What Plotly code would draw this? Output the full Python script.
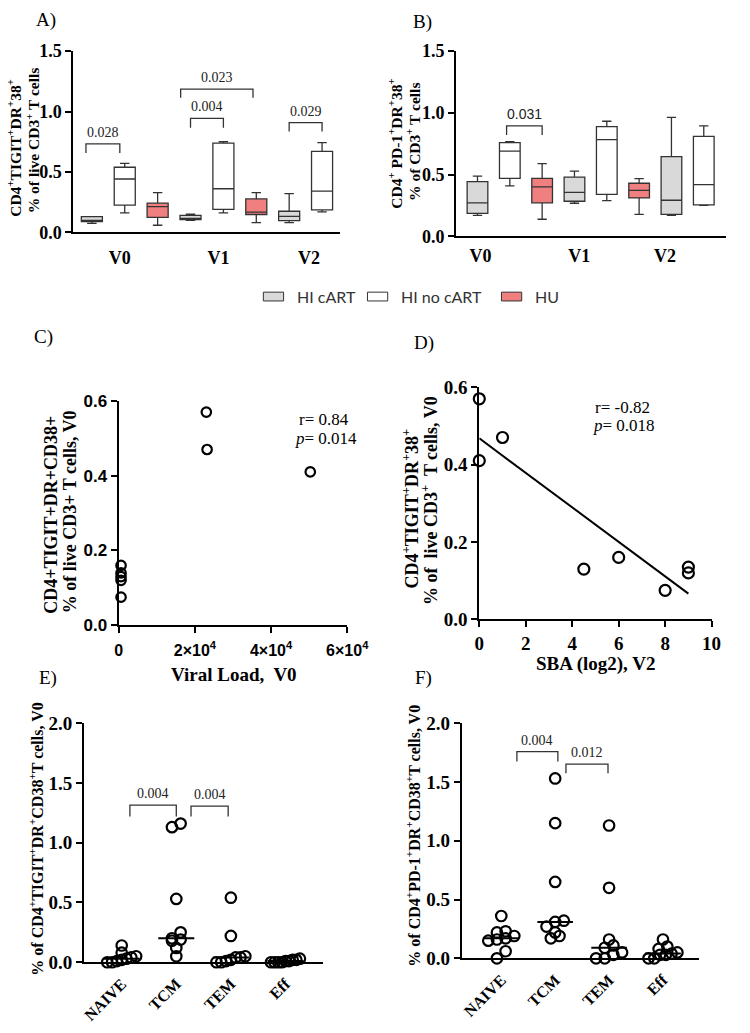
import numpy as np
import plotly.graph_objects as go

W, H = 750, 1033

# ---------------- panels A and B: box stats per visit (min, q1, median, q3, max)
visits = ["V0", "V1", "V2"]
series = ["HI cART", "HI no cART", "HU"]
fills = ["#d9d9d9", "#ffffff", "#f08080"]

a_cart = [(0.075, 0.09, 0.10, 0.13, 0.13), (0.10, 0.105, 0.115, 0.14, 0.15), (0.08, 0.097, 0.132, 0.175, 0.32)]
a_nocart = [(0.162, 0.226, 0.442, 0.539, 0.571), (0.162, 0.191, 0.361, 0.738, 0.751), (0.17, 0.186, 0.342, 0.671, 0.743)]
a_hu = [(0.059, 0.124, 0.213, 0.242, 0.329), (0.081, 0.148, 0.167, 0.277, 0.329)]

b_cart = [(0.17, 0.186, 0.271, 0.443, 0.488), (0.268, 0.284, 0.356, 0.48, 0.528), (0.17, 0.178, 0.292, 0.645, 0.964)]
b_nocart = [(0.409, 0.47, 0.69, 0.759, 0.767), (0.289, 0.34, 0.783, 0.889, 0.932), (0.25, 0.255, 0.419, 0.81, 0.895)]
b_hu = [(0.138, 0.271, 0.40, 0.47, 0.589), (0.178, 0.311, 0.372, 0.43, 0.467)]

# brackets: (from slot, to slot, top, drop, p value)
a_brackets = [(-0.18, 0.85, 0.733, 0.076, "0.028"), (3.0, 4.0, 0.943, 0.076, "0.004"),
              (2.7, 4.9, 1.185, 0.07, "0.023"), (6.0, 7.0, 0.908, 0.073, "0.029")]
b_brackets = [(0.9, 2.0, 0.895, 0.075, "0.031")]

# ---------------- panel C: viral load vs CD4+TIGIT+DR+CD38+
c_viral_load = [23000, 23200, 50300, 600, 600, 600, 600, 600]
c_values = [0.57, 0.47, 0.41, 0.16, 0.14, 0.13, 0.12, 0.075]
c_r, c_p = "0.84", "0.014"

# ---------------- panel D: SBA vs CD4+TIGIT+DR+38+
d_sba = [0, 0, 1, 4.5, 6, 8, 9, 9]
d_values = [0.57, 0.41, 0.47, 0.13, 0.16, 0.075, 0.135, 0.12]
d_r, d_p = "-0.82", "0.018"

# ---------------- panels E and F: subsets
subsets = ["NAIVE", "TCM", "TEM", "Eff"]
e_naive = [0.14, 0.08, 0.05, 0.04, 0.03, 0.02, 0.01, 0.0, 0.0]
e_tcm = [1.16, 1.13, 0.53, 0.25, 0.20, 0.19, 0.18, 0.12, 0.05]
e_tem = [0.54, 0.22, 0.05, 0.04, 0.04, 0.02, 0.01, 0.0, 0.0]
e_eff = [0.03, 0.02, 0.02, 0.01, 0.01, 0.0, 0.0, 0.0, 0.0]

f_naive = [0.36, 0.23, 0.22, 0.19, 0.17, 0.16, 0.15, 0.06, 0.0]
f_tcm = [1.53, 1.15, 0.65, 0.32, 0.31, 0.27, 0.22, 0.19, 0.17]
f_tem = [1.13, 0.60, 0.16, 0.11, 0.09, 0.05, 0.03, 0.0, 0.0]
f_eff = [0.16, 0.10, 0.08, 0.05, 0.04, 0.03, 0.03, 0.0, 0.0]

e_brackets = [(0.15, 1.0, 1.315, 0.095, "0.004"), (1.27, 1.95, 1.307, 0.087, "0.004")]
f_brackets = [(0.29, 1.05, 1.758, 0.084, "0.004"), (1.2, 1.98, 1.652, 0.078, "0.012")]


def px(x):
    return x / W


def py(y):
    return 1 - y / H


serif = "Liberation Serif"
sans = "Liberation Sans"
INK = "#222222"

fig = go.Figure()


def tfont(size, family=serif):
    return dict(family=family, size=size, color="black", weight="bold")


def axis(**kw):
    base = dict(showline=True, linewidth=2.2, linecolor="black", ticks="outside",
                ticklen=6, tickwidth=2.2, tickcolor="black", showgrid=False,
                zeroline=False, fixedrange=True, tickfont=tfont(18))
    base.update(kw)
    return base


def add_boxes(stats, xa, ya):
    for s, (name, fill) in enumerate(zip(series, fills)):
        st = stats[s]
        lo, q1, md, q3, hi = zip(*st)
        fig.add_trace(go.Box(
            x=[g * 3 + s for g in range(len(st))], lowerfence=lo, q1=q1, median=md,
            q3=q3, upperfence=hi, name=name, fillcolor=fill,
            line=dict(color="#333333", width=1.3), width=0.64, whiskerwidth=0.45,
            boxpoints=False, xaxis=xa, yaxis=ya, showlegend=False, hoverinfo="skip"))


def add_brackets(brackets, xa, ya, font):
    for x0, x1, top, drop, label in brackets:
        fig.add_trace(go.Scatter(
            x=[x0, x0, x1, x1], y=[top - drop, top, top, top - drop], mode="lines",
            line=dict(color="#333333", width=1.3), xaxis=xa, yaxis=ya,
            showlegend=False, hoverinfo="skip", cliponaxis=False))
        fig.add_annotation(x=(x0 + x1) / 2, y=top, xref=xa, yref=ya, text=label,
                           showarrow=False, yanchor="bottom", yshift=2, font=font)


def swarm(values, unit_y, unit_x, row=8.0, gap=9.0, spread=30.0):
    # GraphPad-like scatter: points binned in rows, each row spread sideways
    vals = np.asarray(values, dtype=float)
    rows = np.floor(vals * unit_y / row).astype(int)
    offs = np.zeros(len(vals))
    for r in np.unique(rows):
        idx = np.where(rows == r)[0]
        idx = idx[np.argsort(vals[idx], kind="stable")]
        n = len(idx)
        if n == 1:
            continue
        s = min(gap, spread / (n - 1))
        for j, i in enumerate(idx):
            offs[i] = (j - (n - 1) / 2) * s / unit_x
    return offs


def add_dots(groups, xa, ya, unit_y, unit_x):
    for g, vals in enumerate(groups):
        offs = swarm(vals, unit_y, unit_x)
        fig.add_trace(go.Scatter(
            x=g + offs, y=vals, mode="markers",
            marker=dict(symbol="circle-open", size=10.5, color="black", line=dict(width=2.2)),
            xaxis=xa, yaxis=ya, showlegend=False, hoverinfo="skip", cliponaxis=False))
        med = float(np.median(vals))
        fig.add_trace(go.Scatter(
            x=[g - 0.33, g + 0.33], y=[med, med], mode="lines",
            line=dict(color="black", width=2), xaxis=xa, yaxis=ya,
            showlegend=False, hoverinfo="skip", cliponaxis=False))


# ---- A
add_boxes([a_cart, a_nocart, a_hu], "x", "y")
add_brackets(a_brackets, "x", "y", dict(family=serif, size=14, color=INK))
# ---- B
add_boxes([b_cart, b_nocart, b_hu], "x2", "y2")
add_brackets(b_brackets, "x2", "y2", dict(family=sans, size=14, color=INK))

# ---- C
fig.add_trace(go.Scatter(
    x=c_viral_load, y=c_values, mode="markers",
    marker=dict(symbol="circle-open", size=9.5, color="black", line=dict(width=2.2)),
    xaxis="x3", yaxis="y3", showlegend=False, hoverinfo="skip", cliponaxis=False))

# ---- D
fig.add_trace(go.Scatter(
    x=d_sba, y=d_values, mode="markers",
    marker=dict(symbol="circle-open", size=11, color="black", line=dict(width=2.2)),
    xaxis="x4", yaxis="y4", showlegend=False, hoverinfo="skip", cliponaxis=False))
slope, icpt = np.polyfit(d_sba, d_values, 1)
fit_x = [min(d_sba), max(d_sba)]
fig.add_trace(go.Scatter(
    x=fit_x, y=[icpt + slope * v for v in fit_x], mode="lines",
    line=dict(color="black", width=2), xaxis="x4", yaxis="y4",
    showlegend=False, hoverinfo="skip", cliponaxis=False))

# ---- E / F
add_dots([e_naive, e_tcm, e_tem, e_eff], "x5", "y5", 122, 56.7)
add_brackets(e_brackets, "x5", "y5", dict(family=serif, size=14, color=INK))
add_dots([f_naive, f_tcm, f_tem, f_eff], "x6", "y6", 120, 56)
add_brackets(f_brackets, "x6", "y6", dict(family=serif, size=14, color=INK))

box_y = dict(range=[0, 1.5], tickvals=[0, 0.5, 1.0, 1.5], tickformat=".1f")
cat_x = dict(ticks="", tickangle=-45, tickvals=[0, 1, 2, 3], ticktext=subsets,
             tickfont=tfont(16), ticklabelstandoff=4)
dot_y = dict(range=[0, 2], tickvals=[0, 0.5, 1, 1.5, 2], tickformat=".1f",
             tickfont=tfont(19))

fig.update_layout(
    autosize=True, margin=dict(l=0, r=0, t=0, b=0),
    paper_bgcolor="white", plot_bgcolor="white", showlegend=False,
    xaxis=axis(domain=[px(71), px(348)], range=[-0.56, 7.56], ticks="",
               tickvals=[0.85, 3.85, 6.6], ticktext=visits, anchor="y",
               ticklabelstandoff=8),
    yaxis=axis(domain=[py(227), py(42)], anchor="x", **box_y),
    xaxis2=axis(domain=[px(468), px(748)], range=[-0.66, 7.69], ticks="",
                tickvals=[0.09, 3.15, 5.8], ticktext=visits, anchor="y2",
                ticklabelstandoff=2),
    yaxis2=axis(domain=[py(231), py(42)], anchor="x2", **box_y),
    xaxis3=axis(domain=[px(118), px(355)], range=[0, 60000], anchor="y3",
                tickvals=[0, 20000, 40000, 60000],
                ticktext=["0", "2×10<sup>4</sup>", "4×10<sup>4</sup>", "6×10<sup>4</sup>"],
                tickfont=tfont(16, sans), ticklabelstandoff=3),
    yaxis3=axis(domain=[py(628), py(399)], range=[0, 0.6], anchor="x3",
                tickvals=[0, 0.2, 0.4, 0.6], tickformat=".1f", tickfont=tfont(17, sans)),
    xaxis4=axis(domain=[px(492), px(733)], range=[0, 10], anchor="y4",
                tickvals=[0, 2, 4, 6, 8, 10], tickfont=tfont(19)),
    yaxis4=axis(domain=[py(622), py(385)], range=[0, 0.6], anchor="x4",
                tickvals=[0, 0.2, 0.4, 0.6], tickformat=".1f", tickfont=tfont(19)),
    xaxis5=axis(domain=[px(82), px(330)], range=[-0.69, 3.69], anchor="y5", **cat_x),
    yaxis5=axis(domain=[py(972), py(728)], anchor="x5", **dot_y),
    xaxis6=axis(domain=[px(474), px(720)], range=[-0.73, 3.67], anchor="y6", **cat_x),
    yaxis6=axis(domain=[py(968), py(728)], anchor="x6", **dot_y),
)


def note(x, y, text, size=15, family=serif, bold=False, angle=0, xanchor="center", color="black"):
    fig.add_annotation(x=px(x), y=py(y), xref="paper", yref="paper", text=text,
                       showarrow=False, textangle=angle, xanchor=xanchor, yanchor="middle",
                       font=dict(family=family, size=size, color=color,
                                 weight="bold" if bold else "normal"))


def vtitle(x, y, text, size):
    note(x, y, text, size=size, bold=True, angle=-90)


# panel letters
for lab, x, y in [("A)", 43, 10), ("B)", 433, 12), ("C)", 40, 334),
                  ("D)", 435, 340), ("E)", 45, 682), ("F)", 434, 682)]:
    note(x, y, lab, size=19)

# axis titles
vtitle(10, 141, "CD4<sup>+</sup>TIGIT<sup>+</sup>DR<sup>+</sup>38<sup>+</sup>", 15.5)
vtitle(29, 133, "% of live CD3<sup>+</sup> T cells", 15.5)
vtitle(405, 136, "CD4<sup>+</sup> PD-1<sup>+</sup>DR<sup>+</sup>38<sup>+</sup>", 15.5)
vtitle(424, 135, "% of CD3<sup>+</sup> T cells", 15.5)
vtitle(47, 515, "CD4+TIGIT+DR+CD38+", 18)
vtitle(67, 512, "% of live CD3+ T cells, V0", 18)
vtitle(421, 509, "CD4<sup>+</sup>TIGIT<sup>+</sup>DR<sup>+</sup>38<sup>+</sup>", 18)
vtitle(441, 501, "% of  live CD3<sup>+</sup>  T cells, V0", 18)
vtitle(32, 846, "% of CD4<sup>+</sup>TIGIT<sup>+</sup>DR<sup>+</sup>CD38<sup>+</sup>T cells, V0", 16)
vtitle(423, 843, "% of CD4<sup>+</sup>PD-1<sup>+</sup>DR<sup>+</sup>CD38<sup>+</sup>T cells, V0", 16)
note(238, 678, "Viral Load,  V0", size=19, bold=True)
note(613, 668, "SBA (log2), V2", size=19, bold=True)

# correlation stats
note(303, 418, "r= " + c_r, size=17, xanchor="left")
note(299, 437, "<i>p</i>= " + c_p, size=17, xanchor="left")
note(610, 406, "r= " + d_r, size=17, xanchor="left")
note(608, 424, "<i>p</i>= " + d_p, size=17, xanchor="left")

# legend for the box panels
for name, fill, x in zip(series, fills, [268, 376, 515]):
    fig.add_shape(type="rect", xref="paper", yref="paper", x0=px(x), x1=px(x + 21),
                  y0=py(297), y1=py(288), fillcolor=fill, line=dict(color="#333333", width=1))
    note(x + 33, 292, name, size=16, family="Lato", xanchor="left", color="#333333")

fig.write_html(
    "out.html", default_width="100vw", default_height="100vh",
    config={"displayModeBar": False, "responsive": True},
    post_script="document.body.style.margin='0px';document.body.style.overflow='hidden';"
                "Plotly.Plots.resize(document.getElementById('{plot_id}'));")
